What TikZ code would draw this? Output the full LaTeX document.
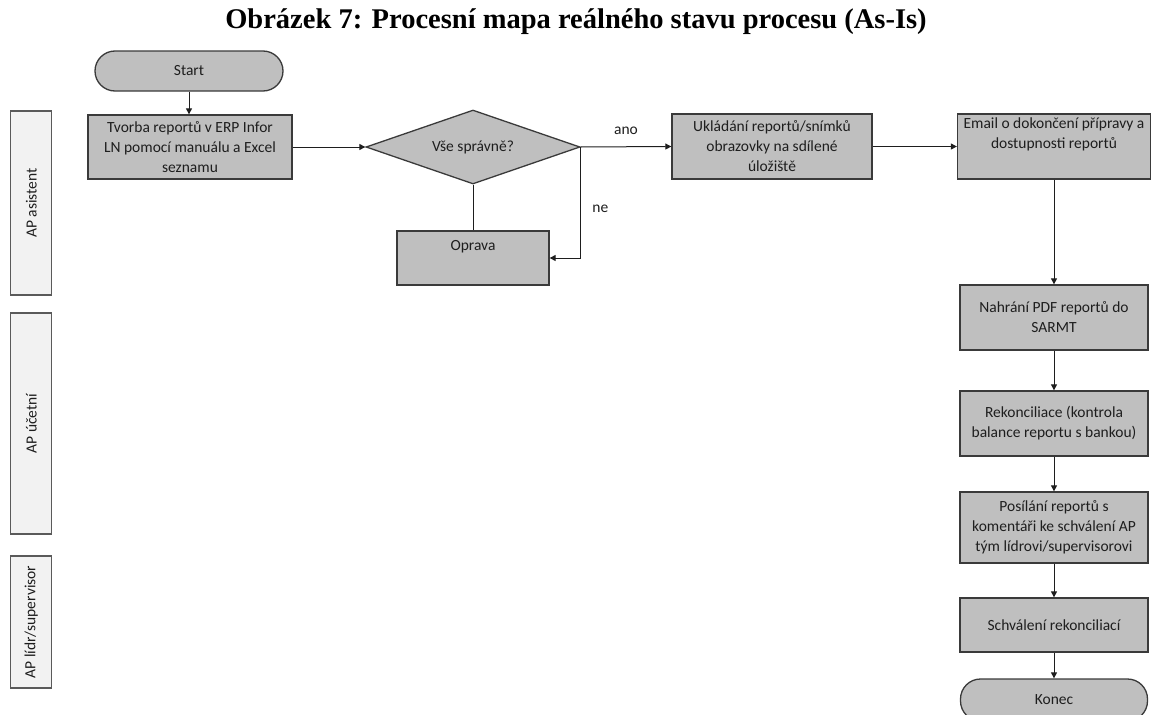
\documentclass[tikz,border=0pt]{standalone}
\usepackage{fontspec}
\setmainfont{Carlito}
\newfontfamily\titlefont{Liberation Serif}
\usetikzlibrary{shapes.geometric,arrows.meta}

\definecolor{boxfill}{HTML}{BFBFBF}
\definecolor{boxline}{HTML}{3A3A3A}
\definecolor{lanefill}{HTML}{F2F2F2}
\definecolor{laneline}{HTML}{5A5A5A}
\definecolor{ink}{HTML}{1E1E1E}

\tikzset{
  every node/.style={text=ink, font=\fontsize{15.5}{20}\selectfont},
  procbox/.style={draw=boxline, line width=1.3pt, fill=boxfill, rectangle,
    align=center, inner sep=2pt},
  terminal/.style={draw=boxline, line width=1.3pt, fill=boxfill, rectangle,
    rounded corners=20pt, align=center, inner sep=2pt},
  decision/.style={draw=boxline, line width=1.3pt, fill=boxfill, diamond,
    aspect=2.9, inner sep=0pt, align=center},
  lanebox/.style={draw=laneline, line width=1.3pt, fill=lanefill, rectangle,
    minimum width=41pt, inner sep=0pt},
  flow/.style={draw=ink, line width=1pt, -{Triangle[length=6pt,width=6pt]}},
  plain/.style={draw=ink, line width=1pt},
}

\begin{document}
\begin{tikzpicture}[x=1pt, y=-1pt]
  \clip (0,0) rectangle (1152,715);
  \useasboundingbox (0,0) rectangle (1152,715);

  % heading
  \node[anchor=base, font=\titlefont\bfseries\fontsize{28.5}{32}\selectfont, text=black]
    (title) at (576,28) {Obrázek 7: Procesní mapa reálného stavu procesu (As-Is)};

  % swimlane labels
  \node[lanebox, minimum height=184pt] (lane1) at (31.3,203)
    {\rotatebox{90}{AP asistent}};
  \node[lanebox, minimum height=221pt] (lane2) at (31.3,423.5)
    {\rotatebox{90}{AP účetní}};
  \node[lanebox, minimum height=132pt] (lane3) at (31.3,622)
    {\rotatebox{90}{AP lídr/supervisor}};

  % process steps
  \node[terminal, minimum width=188pt, minimum height=40pt] (start) at (189,71) {Start};
  \node[procbox, minimum width=204pt, minimum height=64pt] (tvorba) at (190,147)
    {Tvorba reportů v ERP Infor\\LN pomocí manuálu a Excel\\seznamu};
  \node[decision, minimum width=214pt, minimum height=74pt] (dec) at (473,147)
    {Vše správně?};
  \node[procbox, minimum width=152pt, minimum height=54pt] (oprava) at (473,258)
    {Oprava\\\strut};
  \node[procbox, minimum width=200pt, minimum height=65pt] (ukl) at (772,146.5)
    {Ukládání reportů/snímků\\obrazovky na sdílené\\úložiště};
  \node[procbox, minimum width=193pt, minimum height=65pt] (email) at (1054,146.5)
    {Email o dokončení přípravy a\\dostupnosti reportů\\\strut};
  \node[procbox, minimum width=188pt, minimum height=65pt] (nahrani) at (1054,317.5)
    {Nahrání PDF reportů do\\SARMT};
  \node[procbox, minimum width=188pt, minimum height=65pt] (rekon) at (1054,423.5)
    {Rekonciliace (kontrola\\balance reportu s bankou)};
  \node[procbox, minimum width=188pt, minimum height=71pt] (posil) at (1054,527.5)
    {Posílání reportů s\\komentáři ke schválení AP\\tým lídrovi/supervisorovi};
  \node[procbox, minimum width=188pt, minimum height=54pt] (schval) at (1054,625)
    {Schválení rekonciliací};
  \node[terminal, minimum width=187pt, minimum height=42pt] (konec) at (1054,700)
    {Konec};

  % connectors
  \draw[flow] (start.south) -- (start.south |- tvorba.north);
  \draw[flow] (tvorba.east) -- (dec.west);
  \draw[plain] (dec.south) -- (oprava.north);
  \draw[flow] (dec.east) |- (oprava.east)
    node[pos=0.28, anchor=west, xshift=8pt] (ne) {ne};
  \draw[flow] (dec.east) -- (ukl.west)
    node[midway, yshift=16pt] (ano) {ano};
  \draw[flow] (ukl.east) -- (email.west);
  \draw[flow] (email.south) -- (nahrani.north);
  \draw[flow] (nahrani.south) -- (rekon.north);
  \draw[flow] (rekon.south) -- (posil.north);
  \draw[flow] (posil.south) -- (schval.north);
  \draw[flow] (schval.south) -- (konec.north);
\end{tikzpicture}
\end{document}
